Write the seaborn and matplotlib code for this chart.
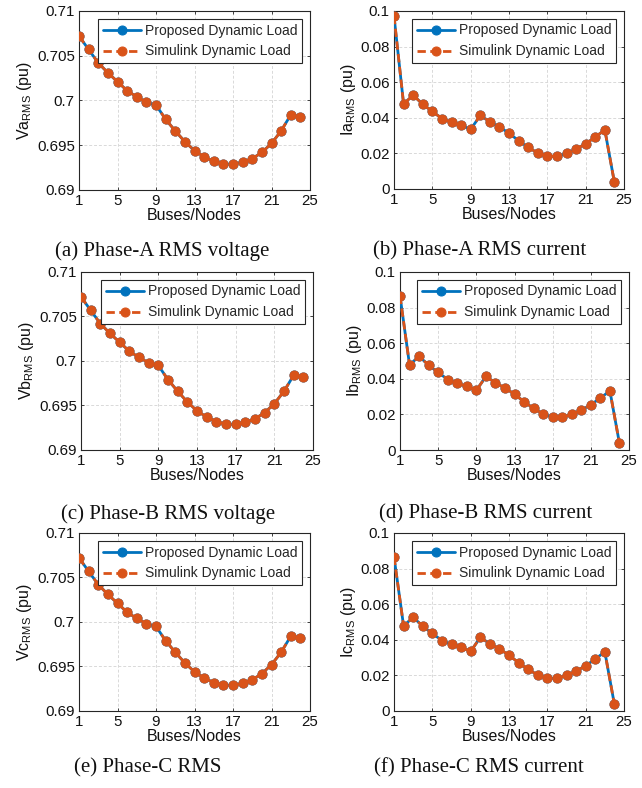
import numpy as np
import pandas as pd
import matplotlib
matplotlib.use("Agg")
import matplotlib.pyplot as plt
import seaborn as sns

# Bus indices along the feeder
buses = list(range(1, 25))

# RMS voltage per bus (pu), identical for the three phases
va_rms = [0.7072, 0.7057, 0.7042, 0.7031, 0.7021, 0.7011, 0.7004, 0.6998,
          0.6995, 0.6979, 0.6966, 0.6954, 0.6944, 0.6937, 0.6932, 0.6929,
          0.6929, 0.6931, 0.6935, 0.6942, 0.6952, 0.6966, 0.6984, 0.6982]
vb_rms = list(va_rms)
vc_rms = list(va_rms)

# RMS current per bus (pu)
ia_rms = [0.0972, 0.0478, 0.0527, 0.0476, 0.0436, 0.0396, 0.0374, 0.0358,
          0.0335, 0.0413, 0.0378, 0.0348, 0.0314, 0.0271, 0.0234, 0.0202,
          0.0185, 0.0183, 0.0200, 0.0224, 0.0254, 0.0292, 0.0332, 0.0037]
ib_rms = [0.0866] + ia_rms[1:]
ic_rms = [0.0866] + ia_rms[1:]

series_names = ["Proposed Dynamic Load", "Simulink Dynamic Load"]
x_ticks = [1, 5, 9, 13, 17, 21, 25]
v_ticks = [0.69, 0.695, 0.70, 0.705, 0.71]
v_ticklabels = ["0.69", "0.695", "0.7", "0.705", "0.71"]
i_ticks = [0, 0.02, 0.04, 0.06, 0.08, 0.1]
i_ticklabels = ["0", "0.02", "0.04", "0.06", "0.08", "0.1"]

captions = ["(a) Phase-A RMS voltage", "(b) Phase-A RMS current",
            "(c) Phase-B RMS voltage", "(d) Phase-B RMS current",
            "(e) Phase-C RMS", "(f) Phase-C RMS current"]
ylabels = ["Va", "Ia", "Vb", "Ib", "Vc", "Ic"]

sns.set_theme(style="white")
plt.rcParams["font.family"] = ["Liberation Sans", "DejaVu Sans"]
plt.rcParams["mathtext.fontset"] = "custom"
plt.rcParams["mathtext.rm"] = "Liberation Sans"

BLUE = "#0072BD"
ORANGE = "#D95319"
EDGE = "#262626"

W, H = 642, 788
fig = plt.figure(figsize=(W / 100, H / 100), dpi=100)

# axes boxes in pixels: (left, top, right, bottom)
boxes = [
    (79, 11, 310, 190), (394, 11, 624, 189),
    (81, 272, 313, 450), (400, 272, 629, 450),
    (79, 533, 310, 711), (394, 533, 624, 711),
]
caption_pos = [(162, 251), (480, 251), (168, 514), (486, 514),
               (148, 768), (479, 768)]

panels = [va_rms, ia_rms, vb_rms, ib_rms, vc_rms, ic_rms]

for k, (vals, box) in enumerate(zip(panels, boxes)):
    l, t, r, b = box
    ax = fig.add_axes([l / W, 1 - b / H, (r - l) / W, (b - t) / H])
    df = pd.DataFrame({"bus": buses, "value": vals})
    sns.lineplot(data=df, x="bus", y="value", ax=ax, color=BLUE, lw=2.0,
                 marker="o", markersize=6.5, markeredgecolor=BLUE,
                 markerfacecolor=BLUE, label=series_names[0], zorder=3)
    sns.lineplot(data=df, x="bus", y="value", ax=ax, color=ORANGE, lw=2.0,
                 linestyle=(0, (3, 1.6)), marker="o", markersize=6.5,
                 markeredgecolor=ORANGE, markerfacecolor=ORANGE,
                 label=series_names[1], zorder=4)

    ax.set_xlim(1, 25)
    ax.set_xticks(x_ticks)
    ax.set_xticklabels([str(v) for v in x_ticks])
    if k % 2 == 0:
        ax.set_ylim(0.69, 0.71)
        ax.set_yticks(v_ticks)
        ax.set_yticklabels(v_ticklabels)
    else:
        ax.set_ylim(0, 0.1)
        ax.set_yticks(i_ticks)
        ax.set_yticklabels(i_ticklabels)

    ax.grid(True, color="#d9d9d9", linestyle=(0, (3, 2)), linewidth=0.7)
    ax.set_axisbelow(True)
    for sp in ax.spines.values():
        sp.set_visible(True)
        sp.set_color(EDGE)
        sp.set_linewidth(0.8)
    ax.tick_params(axis="both", direction="in", length=2, width=0.6,
                   color=EDGE, labelsize=10.8, labelcolor="#111111", pad=3,
                   top=True, right=True, bottom=True, left=True)

    ax.set_xlabel("Buses/Nodes", fontsize=11.5, labelpad=0, color="#111111")
    ax.set_ylabel(ylabels[k] + r"$_{\mathregular{RMS}}$ (pu)", fontsize=11.5,
                  labelpad=2, color="#111111")

    leg = ax.legend(loc="upper right", fontsize=10, frameon=True,
                    fancybox=False, handlelength=2.7, handletextpad=0.3,
                    borderpad=0.35, labelspacing=0.5, borderaxespad=0.55)
    leg.get_frame().set_edgecolor(EDGE)
    leg.get_frame().set_linewidth(0.8)
    leg.get_frame().set_facecolor("white")
    leg.get_frame().set_alpha(1)

    cx, cy = caption_pos[k]
    fig.text(cx / W, 1 - cy / H, captions[k], ha="center", va="center",
             fontsize=15, family=["Liberation Serif", "DejaVu Serif"],
             color="#111111")

fig.savefig("out.png", dpi=100, facecolor="white")
